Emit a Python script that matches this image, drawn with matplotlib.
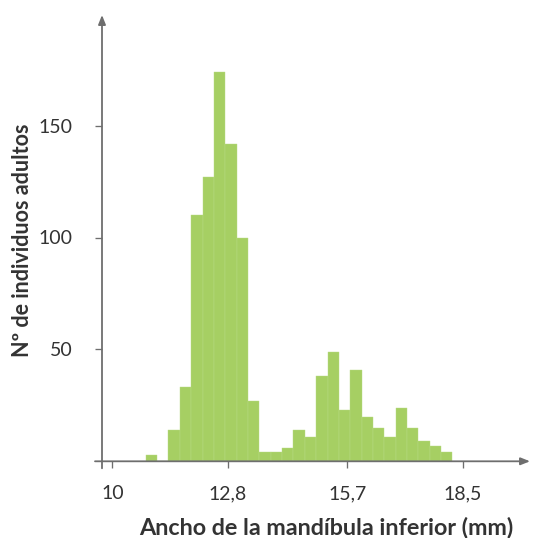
import matplotlib.pyplot as plt
import numpy as np

# histogram data
bin_start = 10.81   # mm, left edge of first bin
bin_width = 0.2757  # mm
counts = [3, 0, 14, 33, 110, 127, 174, 142, 100, 27, 4, 4, 6, 14, 11,
          38, 49, 23, 41, 20, 15, 11, 24, 15, 9, 7, 4]

x_ticks = [10, 12.8, 15.7, 18.5]
x_tick_labels = ['10', '12,8', '15,7', '18,5']
y_ticks = [50, 100, 150]

BAR = '#a6cf63'
AXIS = '#6e6e6e'
TEXT = '#333333'

plt.rcParams['font.family'] = ['Lato', 'DejaVu Sans']

W, H = 533, 538
fig = plt.figure(figsize=(W / 100, H / 100), dpi=100)

# axes placed in pixel terms of the reference
left, right, base, top = 102, 530, 461.3, 15
ax = fig.add_axes([left / W, 1 - base / H, (right - left) / W, (base - top) / H])

px_per_mm = 41.2
x0_px = 112.4  # position of 10 mm
ax.set_xlim(10 - (x0_px - left) / px_per_mm, 10 + (right - x0_px) / px_per_mm)
ax.set_ylim(0, (base - top) / 2.238)

lefts = bin_start + bin_width * np.arange(len(counts))
ax.bar(lefts, counts, width=bin_width, align='edge', color=BAR,
       edgecolor='#b9db85', linewidth=0.3, zorder=2)

for s in ax.spines.values():
    s.set_visible(False)

# axis lines with arrowheads, overhanging the origin a little
ov_x = 7 / (right - left)
ov_y = 7 / (base - top)
arrow = dict(arrowstyle='-|>,head_length=0.55,head_width=0.22', color=AXIS,
             lw=1.3, shrinkA=0, shrinkB=0)
ax.annotate('', xy=(0, 1), xytext=(0, -ov_y), xycoords='axes fraction',
            arrowprops=arrow, annotation_clip=False)
ax.annotate('', xy=(1, 0), xytext=(-ov_x, 0), xycoords='axes fraction',
            arrowprops=arrow, annotation_clip=False)

ax.set_xticks(x_ticks)
ax.set_xticklabels(x_tick_labels)
ax.set_yticks(y_ticks)
ax.tick_params(axis='both', direction='out', length=5, width=0.95, color=AXIS,
               labelsize=14, labelcolor=TEXT)
ax.tick_params(axis='y', pad=16)
ax.tick_params(axis='x', pad=12)

fig.text(326 / W, 1 - 527 / H, 'Ancho de la mandíbula inferior (mm)',
         ha='center', va='center', fontsize=16.8, fontweight='bold', color=TEXT)
fig.text(22.5 / W, 1 - 240 / H, 'Nº de individuos adultos', rotation=90,
         ha='center', va='center', fontsize=15.5, fontweight='bold', color=TEXT)

fig.savefig('out.png', dpi=100)
